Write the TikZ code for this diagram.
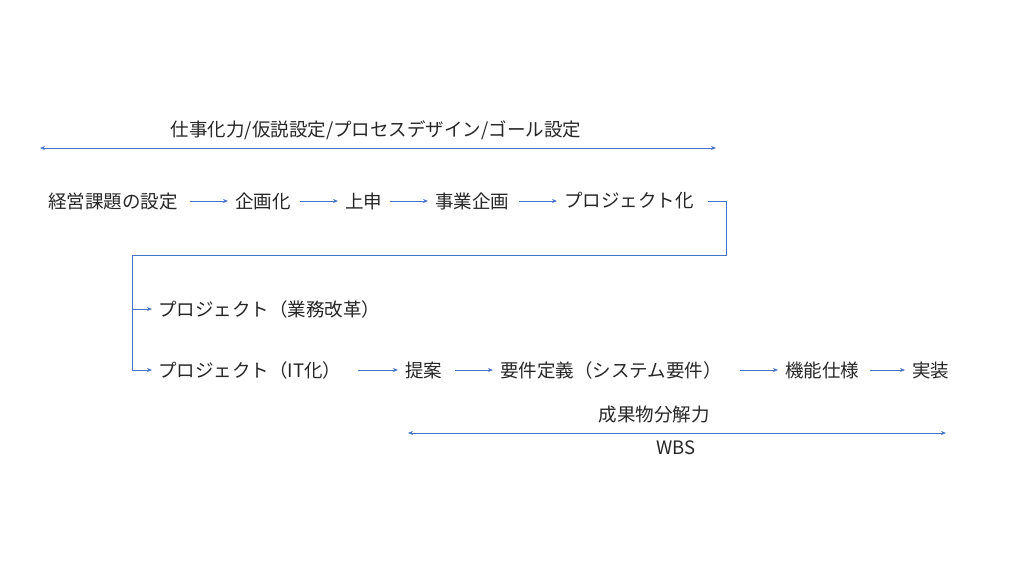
\documentclass[tikz,border=0pt]{standalone}
\usepackage{fontspec}
\setmainfont{Noto Sans CJK JP}
\usetikzlibrary{arrows.meta}
\definecolor{ln}{RGB}{68,114,196}
\begin{document}
\begin{tikzpicture}[x=1pt,y=-1pt,
  t/.style={font=\fontsize{18.5}{18.5}\selectfont, text=black!85, inner sep=0pt, anchor=west},
  a/.style={draw=ln, line width=0.9pt, -{Stealth[length=5pt,width=4pt]}},
  da/.style={draw=ln, line width=0.9pt, {Stealth[length=5pt,width=4pt]}-{Stealth[length=5pt,width=4pt]}}]
\useasboundingbox (0,0) rectangle (1024,576);
\node[t,anchor=center] (top) at (376,130) {仕事化力/仮説設定/プロセスデザイン/ゴール設定};
\coordinate (tl) at (40,148); \coordinate (tr) at (716,148);
\draw[da] (tl) -- (tr);
\node[t] (n1) at (48,201) {経営課題の設定};
\node[t] (n2) at (235,201) {企画化};
\node[t] (n3) at (345,201) {上申};
\node[t] (n4) at (435,201) {事業企画};
\node[t] (n5) at (564,201) {プロジェクト化};
\draw[a] (190,201) -- (228,201);
\draw[a] (300,201) -- (338,201);
\draw[a] (390,201) -- (428,201);
\draw[a] (519,201) -- (557,201);
\coordinate (c1) at (708,201);
\coordinate (b1) at (132,309);
\coordinate (b2) at (132,370);
\node[t] (p1) at (158,309) {プロジェクト（業務改革）};
\node[t] (p2) at (158,370) {プロジェクト（IT化）};
\node[t] (q1) at (405,370) {提案};
\node[t] (q2) at (500,370) {要件定義（システム要件）};
\node[t] (q3) at (785,370) {機能仕様};
\node[t] (q4) at (912,370) {実装};
\draw[draw=ln, line width=0.9pt] (c1) -- (726,201) -- (726,255) -- (132,255) -- (b2);
\draw[a] (b1) -- (152,309);
\draw[a] (b2) -- (152,370);
\draw[a] (358,370) -- (398,370);
\draw[a] (455,370) -- (493,370);
\draw[a] (740,370) -- (778,370);
\draw[a] (870,370) -- (905,370);
\node[t,anchor=center] (s1) at (654,415) {成果物分解力};
\draw[da] (408,433) -- (946,433);
\node[t,anchor=center] (s2) at (676,448) {WBS};
\end{tikzpicture}
\end{document}
